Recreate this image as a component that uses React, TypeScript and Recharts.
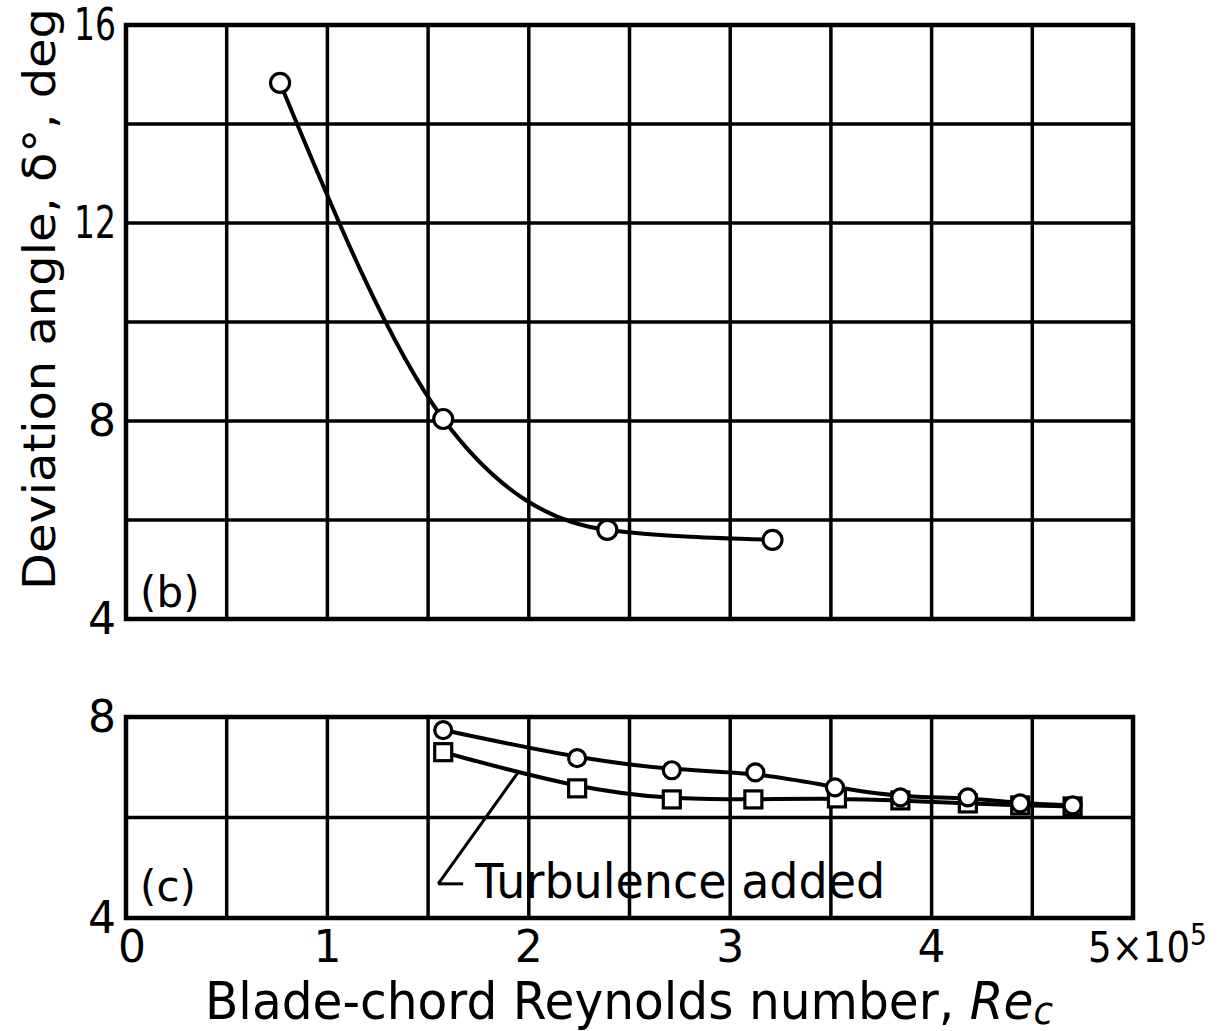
import React from 'react';
import {
  LineChart,
  Line,
  XAxis,
  YAxis,
  CartesianGrid,
  ReferenceArea,
  ReferenceLine,
  ReferenceDot,
} from 'recharts';

// ---- axes ----
const xTicks = [0, 0.5, 1, 1.5, 2, 2.5, 3, 3.5, 4, 4.5, 5];
const xTickLabels: Record<string, string> = { '0': '0', '1': '1', '2': '2', '3': '3', '4': '4' };
const yTicksB = [4, 6, 8, 10, 12, 14, 16];
const yLabelsB = [4, 8, 12, 16];
const yTicksC = [4, 6, 8];
const yLabelsC = [4, 8];

// ---- panel (b) ----
const reB = [0.765, 1.575, 2.39, 3.21];
const devB = [14.83, 8.04, 5.8, 5.6];

// ---- panel (c) ----
const reC = [1.575, 2.24, 2.71, 3.125, 3.52, 3.845, 4.18, 4.44, 4.7];
const devC = [7.74, 7.18, 6.94, 6.9, 6.6, 6.4, 6.4, 6.28, 6.24];
const reCTurb = [1.575, 2.24, 2.71, 3.115, 3.53, 3.845, 4.18, 4.44, 4.7];
const devCTurb = [7.3, 6.58, 6.36, 6.36, 6.38, 6.34, 6.28, 6.24, 6.22];

const dataB = reB.map((x, i) => ({ x, y: devB[i] }));
const dataC = reC.map((x, i) => ({ x, y: devC[i] }));
const dataCT = reCTurb.map((x, i) => ({ x, y: devCTurb[i] }));

const FONT = '"DejaVu Sans", sans-serif';

const makeYTick = (labels: number[]) => (props: any) => {
  const { x, y, payload } = props;
  if (!labels.includes(payload.value)) return <g />;
  const s = String(payload.value);
  return (
    <text
      x={x - 10}
      y={y}
      dy={15}
      textAnchor="end"
      fontFamily={FONT}
      fontSize={44}
      fill="#000"
      {...(s.length > 1 ? { textLength: 42, lengthAdjust: 'spacingAndGlyphs' } : {})}
    >
      {s}
    </text>
  );
};

const XTick = (props: any) => {
  const { x, y, payload } = props;
  const v = payload.value;
  if (v === 5) {
    return (
      <text
        x={x - 45}
        y={y + 44}
        textAnchor="start"
        fontFamily={FONT}
        fontSize={42}
        fill="#000"
        textLength={119}
        lengthAdjust="spacingAndGlyphs"
      >
        5×10
        <tspan dy={-17} fontSize={30}>5</tspan>
      </text>
    );
  }
  const lab = xTickLabels[String(v)];
  if (lab === undefined) return <g />;
  return (
    <text x={x + (v === 0 ? 6 : 0)} y={y + 44} textAnchor="middle" fontFamily={FONT} fontSize={44} fill="#000">
      {lab}
    </text>
  );
};

const CircleDot = (r: number) => (p: any) => (
  <circle key={`c-${p.index}`} cx={p.cx} cy={p.cy} r={r} fill="#fff" stroke="#000" strokeWidth={3.2} />
);
const SquareDot = (p: any) => (
  <rect key={`s-${p.index}`} x={p.cx - 8.5} y={p.cy - 8.5} width={17} height={17} fill="#fff" stroke="#000" strokeWidth={3.2} />
);

const textLabel = (txt: string, size: number, len?: number) => (props: any) => {
  const vb = props.viewBox || {};
  const cx = vb.x + (vb.width || 0) / 2;
  const cy = vb.y + (vb.height || 0) / 2;
  return (
    <text
      x={cx}
      y={cy}
      fontFamily={FONT}
      fontSize={size}
      fill="#000"
      textAnchor="start"
      {...(len ? { textLength: len, lengthAdjust: 'spacingAndGlyphs' } : {})}
    >
      {txt}
    </text>
  );
};

const YTitle = () => (
  <text
    transform="translate(55,299) rotate(-90)"
    textAnchor="middle"
    fontFamily={FONT}
    fontSize={44}
    fill="#000"
    textLength={582}
    lengthAdjust="spacingAndGlyphs"
  >
    Deviation angle, δ°, deg
  </text>
);

const XTitle = () => (
  <text
    x={205}
    y={329}
    textAnchor="start"
    fontFamily={FONT}
    fontSize={52}
    fill="#000"
    textLength={848}
    lengthAdjust="spacingAndGlyphs"
  >
    Blade-chord Reynolds number,{'  '}
    <tspan fontStyle="italic">Re</tspan>
    <tspan fontStyle="italic" fontSize={38} dy={5}>c</tspan>
  </text>
);

export default function App() {
  return (
    <div style={{ position: 'absolute', left: 0, top: 0, width: 1229, height: 1031, background: '#fff', overflow: 'hidden' }}>
      <div style={{ position: 'absolute', left: 0, top: 0 }}>
        <LineChart width={1229} height={645} margin={{ top: 25, right: 96, bottom: 26, left: 0 }}>
          <XAxis type="number" dataKey="x" domain={[0, 5]} ticks={xTicks} hide allowDuplicatedCategory={false} />
          <YAxis
            type="number"
            domain={[4, 16]}
            ticks={yTicksB}
            width={126}
            tickSize={0}
            tickMargin={0}
            axisLine={false}
            tickLine={false}
            tick={makeYTick(yLabelsB)}
            interval={0}
            label={{ content: YTitle }}
          />
          <CartesianGrid stroke="#000" strokeWidth={3.5} />
          <ReferenceArea x1={0} x2={5} y1={4} y2={16} fill="none" stroke="#000" strokeWidth={4.5} fillOpacity={0} />
          <ReferenceDot x={0.07} y={4.25} r={0} fill="none" stroke="none" label={{ content: textLabel('(b)', 42) }} />
          <Line
            data={dataB}
            dataKey="y"
            type="monotone"
            stroke="#000"
            strokeWidth={4}
            dot={CircleDot(9.5)}
            isAnimationActive={false}
          />
        </LineChart>
      </div>
      <div style={{ position: 'absolute', left: 0, top: 690 }}>
        <LineChart width={1229} height={341} margin={{ top: 27, right: 96, bottom: 0, left: 0 }}>
          <XAxis
            type="number"
            dataKey="x"
            domain={[0, 5]}
            ticks={xTicks}
            height={113}
            tickSize={0}
            tickMargin={0}
            axisLine={false}
            tickLine={false}
            tick={XTick}
            interval={0}
            label={{ content: XTitle }}
          />
          <YAxis
            type="number"
            domain={[4, 8]}
            ticks={yTicksC}
            width={126}
            tickSize={0}
            tickMargin={0}
            axisLine={false}
            tickLine={false}
            tick={makeYTick(yLabelsC)}
            interval={0}
          />
          <CartesianGrid stroke="#000" strokeWidth={3.5} />
          <ReferenceArea x1={0} x2={5} y1={4} y2={8} fill="none" stroke="#000" strokeWidth={4.5} fillOpacity={0} />
          <ReferenceDot x={0.07} y={4.34} r={0} fill="none" stroke="none" label={{ content: textLabel('(c)', 42) }} />
          <ReferenceLine
            segment={[{ x: 1.674, y: 4.68 }, { x: 1.55, y: 4.68 }]}
            stroke="#000"
            strokeWidth={3}
          />
          <ReferenceLine
            segment={[{ x: 1.55, y: 4.68 }, { x: 1.947, y: 6.9 }]}
            stroke="#000"
            strokeWidth={3}
          />
          <ReferenceDot x={1.734} y={4.4} r={0} fill="none" stroke="none" label={{ content: textLabel('Turbulence added', 48, 410) }} />
          <Line
            data={dataCT}
            dataKey="y"
            type="basis"
            stroke="#000"
            strokeWidth={4}
            dot={SquareDot}
            isAnimationActive={false}
          />
          <Line
            data={dataC}
            dataKey="y"
            type="basis"
            stroke="#000"
            strokeWidth={4}
            dot={CircleDot(8.5)}
            isAnimationActive={false}
          />
        </LineChart>
      </div>
    </div>
  );
}
